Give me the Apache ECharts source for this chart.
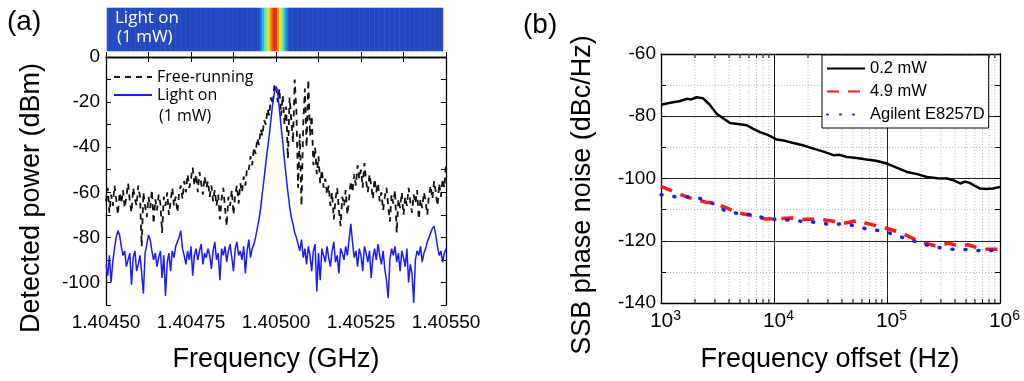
<!DOCTYPE html>
<html>
<head>
<meta charset="utf-8">
<script src="https://cdn.jsdelivr.net/npm/echarts/dist/echarts.min.js"></script>
<style>
html,body{margin:0;padding:0;background:#fff;}
#chart{width:1024px;height:381px;}
</style>
</head>
<body>
<div id="chart"></div>
<script>
// ---------- Panel (a) data ----------
const freqStart = 1.4045;   // GHz
const freqEnd = 1.4055;     // GHz
// Light on (1 mW) trace, 201 samples evenly spaced over freqStart..freqEnd (dBm)
const lightOn = [
 -92,-97,-88,-100,-91,-85,-80,-77,-79,-84,
 -88,-86,-93,-90,-87,-101,-89,-86,-95,-92,
 -88,-96,-105,-87,-83,-79,-81,-86,-90,-87,
 -93,-89,-86,-98,-88,-106,-91,-87,-95,-86,
 -89,-84,-82,-80,-77,-85,-88,-92,-86,-90,
 -84,-97,-88,-85,-90,-86,-83,-92,-87,-89,
 -85,-88,-94,-86,-82,-90,-87,-99,-85,-88,
 -84,-91,-86,-83,-89,-95,-85,-82,-88,-86,
 -90,-84,-96,-86,-81,-89,-85,-83,-80,-76,
 -72,-67,-60,-54,-47,-41,-35,-28,-21,-16,
 -13,
 -16,-23,-31,-38,-46,-53,-60,-66,-71,
 -74,-78,-80,-83,-86,-81,-89,-85,-92,-84,
 -88,-95,-86,-83,-104,-87,-99,-85,-88,-91,
 -84,-89,-93,-86,-82,-91,-88,-96,-85,-87,
 -90,-84,-88,-81,-74,-82,-89,-86,-93,-85,
 -88,-95,-84,-87,-91,-86,-98,-89,-85,-90,
 -83,-88,-92,-86,-94,-99,-107,-90,-85,-88,
 -84,-91,-87,-95,-86,-89,-93,-85,-100,-92,
 -96,-109,-90,-86,-88,-84,-91,-87,-85,-82,
 -80,-78,-76,-75,-79,-84,-88,-86,-91,-87,
 -85
];
// Free-running trace, 201 samples evenly spaced over freqStart..freqEnd (dBm)
const freeRunning = [
 -64,-58,-69,-61,-66,-57,-63,-70,-60,-65,
 -59,-67,-62,-56,-64,-69,-58,-63,-66,-57,
 -62,-84,-60,-66,-71,-62,-67,-59,-74,-63,
 -68,-61,-65,-78,-62,-66,-60,-70,-64,-58,
 -66,-62,-69,-60,-57,-63,-55,-60,-52,-58,
 -54,-49,-57,-52,-60,-51,-56,-61,-53,-58,
 -55,-62,-57,-64,-59,-66,-61,-72,-63,-58,
 -67,-75,-62,-66,-59,-70,-61,-57,-65,-56,
 -60,-53,-57,-49,-50,-44,-48,-40,-43,-36,
 -39,-32,-35,-28,-30,-23,-26,-18,-21,-13,
 -12,-20,-14,-26,-17,-30,-22,-45,-18,-28,
 -38,-10,-24,-58,-34,-66,-30,-14,-40,-10,
 -35,-26,-48,-40,-52,-44,-56,-50,-58,-54,
 -61,-57,-66,-60,-72,-63,-58,-68,-75,-62,
 -66,-59,-70,-63,-55,-60,-52,-57,-48,-54,
 -50,-58,-47,-55,-60,-52,-57,-63,-54,-60,
 -56,-64,-60,-68,-62,-58,-66,-73,-61,-65,
 -59,-78,-63,-67,-60,-70,-62,-66,-58,-64,
 -69,-61,-65,-59,-72,-63,-67,-60,-64,-70,
 -61,-57,-63,-55,-60,-66,-56,-62,-54,-58,
 -47
];

// ---------- Panel (b) data ----------
const offsets02 = [1000,1150,1280,1450,1690,1850,2070,2350,2700,3110,3600,4080,4800,5730,6500,7520,8800,10600,12500,14800,18000,22300,27000,33500,38000,44000,52000,66000,80000,100000,120000,150000,185000,226000,280000,340000,390000,445000,490000,540000,600000,660000,760000,870000,1000000];
const noise02 = [-76.3,-75.8,-75.5,-75.2,-74.4,-74.6,-73.9,-74.2,-76.3,-79.2,-80.8,-82.2,-82.5,-82.9,-84.0,-85.1,-86.0,-87.5,-87.9,-88.6,-89.3,-90.4,-91.3,-92.5,-92.4,-93.1,-93.3,-93.9,-94.3,-95.2,-96.4,-97.9,-98.6,-99.5,-99.9,-100.0,-100.6,-101.6,-101.0,-101.4,-102.4,-103.2,-103.4,-103.2,-102.7];
const offsets49 = [1000,1270,1780,2500,2860,3870,4600,6450,8400,10300,14500,17800,23000,27000,35000,43000,56000,64000,97000,135000,166000,203000,268000,350000,430000,525000,600000,740000,970000,1000000];
const noise49 = [-102.5,-104.1,-106.2,-107.6,-107.8,-109.5,-110.9,-111.9,-113.0,-112.9,-112.7,-113.2,-113.0,-113.2,-113.8,-114.3,-113.5,-114.3,-115.9,-117.5,-119.1,-120.5,-121.6,-120.8,-121.6,-121.3,-122.0,-122.7,-122.7,-122.6];
const offsetsAg = [1000,1360,1780,2250,2960,3740,4900,6450,8150,10700,14000,18400,24000,31700,41600,54500,71000,93000,122000,155000,203000,268000,350000,460000,600000,790000,970000];
const noiseAg = [-105.2,-105.9,-105.9,-106.5,-108.2,-110.5,-111.3,-111.6,-112.7,-113.2,-113.4,-113.8,-114.1,-114.8,-114.5,-115.4,-116.5,-116.8,-118.4,-119.5,-121.0,-122.0,-122.7,-122.7,-123.1,-123.2,-122.9];
const minorOffsets = [2000,3000,4000,5000,6000,7000,8000,9000,20000,30000,40000,50000,60000,70000,80000,90000,200000,300000,400000,500000,600000,700000,800000,900000];

// ---------- build ----------
const fontA = 'Liberation Sans, Arial, sans-serif';
const fontLeg = 'Open Sans, sans-serif';
const stepLight = (freqEnd - freqStart) / (lightOn.length - 1);
const stepFree = (freqEnd - freqStart) / (freeRunning.length - 1);
const lightData = lightOn.map((v, i) => [freqStart + i * stepLight, v]);
const freeData = freeRunning.map((v, i) => [freqStart + i * stepFree, v]);
const stripData = lightOn.map((v, i) => [i, 0, v]);
const zip = (xs, ys) => xs.map((x, i) => [x, ys[i]]);

const chart = echarts.init(document.getElementById('chart'), null, {renderer: 'canvas'});

const boxAxis = {
  axisLine: {show: true, lineStyle: {color: '#000', width: 1.3}},
  axisTick: {show: true, inside: true, length: 5, lineStyle: {color: '#000', width: 1}},
  splitLine: {show: false}
};

const option = {
  animation: false,
  backgroundColor: '#fff',
  grid: [
    {left: 107, top: 8, width: 336, height: 43},
    {left: 106, top: 57, width: 340, height: 248},
    {left: 661, top: 54, width: 339, height: 249}
  ],
  xAxis: [
    {gridIndex: 0, type: 'category', data: lightOn.map((v, i) => i), show: false},
    Object.assign({}, boxAxis, {
      gridIndex: 1, type: 'value', min: freqStart, max: freqEnd, interval: 0.000125,
      axisLabel: {
        margin: 8, fontFamily: fontA, fontSize: 19, color: '#000',
        formatter: function (v) {
          const k = Math.round((v - freqStart) / 0.000125);
          return k % 2 === 0 ? v.toFixed(5) : '';
        }
      }
    }),
    Object.assign({}, boxAxis, {
      gridIndex: 1, type: 'value', position: 'top', min: freqStart, max: freqEnd, interval: 0.000125,
      axisLabel: {show: false}
    }),
    Object.assign({}, boxAxis, {
      gridIndex: 2, type: 'log', logBase: 10, min: 1000, max: 1000000,
      axisLabel: {
        margin: 6, color: '#000',
        formatter: function (v) {
          const e = Math.round(Math.log10(v));
          return '{p|}{b|10}{e|' + e + '}';
        },
        rich: {
          p: {width: 9},
          b: {fontFamily: fontA, fontSize: 21, lineHeight: 24, color: '#000'},
          e: {fontFamily: fontA, fontSize: 14, lineHeight: 14, verticalAlign: 'top', color: '#000', padding: [0, 0, 10, 0]}
        }
      },
      splitLine: {show: true, lineStyle: {color: '#222', width: 1}}
    }),
    Object.assign({}, boxAxis, {
      gridIndex: 2, type: 'log', logBase: 10, min: 1000, max: 1000000, position: 'top',
      axisLabel: {show: false}
    })
  ],
  yAxis: [
    {gridIndex: 0, type: 'category', data: ['0'], show: false},
    Object.assign({}, boxAxis, {
      gridIndex: 1, type: 'value', min: -110, max: 0, interval: 10,
      axisLabel: {
        margin: 6, fontFamily: fontA, fontSize: 19, color: '#000',
        formatter: function (v) { return (Math.round(v) % 20 === 0) ? String(Math.round(v)) : ''; }
      }
    }),
    Object.assign({}, boxAxis, {
      gridIndex: 1, type: 'value', min: -110, max: 0, interval: 10, position: 'right',
      axisLabel: {show: false}
    }),
    Object.assign({}, boxAxis, {
      gridIndex: 2, type: 'value', min: -140, max: -60, interval: 20,
      axisLabel: {margin: 5, fontFamily: fontA, fontSize: 19, color: '#000'},
      minorTick: {show: true, splitNumber: 2, length: 5, lineStyle: {color: '#000'}},
      splitLine: {show: true, lineStyle: {color: '#222', width: 1}},
      minorSplitLine: {show: true, lineStyle: {color: '#bbb', type: [1, 2], width: 1}}
    }),
    Object.assign({}, boxAxis, {
      gridIndex: 2, type: 'value', min: -140, max: -60, interval: 20, position: 'right',
      axisLabel: {show: false},
      minorTick: {show: true, splitNumber: 2, length: 5, lineStyle: {color: '#000'}}
    })
  ],
  visualMap: {
    show: false, type: 'continuous', seriesIndex: 0, dimension: 2, min: -72, max: -15,
    inRange: {color: ['#2448c0', '#2a62d6', '#22a8e8', '#38e6c8', '#a6f052', '#f6e622', '#f68c1e', '#e82c14']}
  },
  legend: [
    {
      data: ['Free-running', 'Light on'], orient: 'vertical', left: 113, top: 69,
      itemWidth: 38, itemHeight: 10, itemGap: 2, padding: 0,
      itemStyle: {opacity: 0},
      textStyle: {fontFamily: fontLeg, fontSize: 16, color: '#000'},
      selectedMode: false
    },
    {
      data: ['0.2 mW', '4.9 mW', 'Agilent E8257D'], orient: 'vertical', left: 822, top: 55,
      itemWidth: 38, itemHeight: 12, itemGap: 6, padding: [5, 4, 5, 4],
      itemStyle: {opacity: 0},
      backgroundColor: '#fff', borderColor: '#000', borderWidth: 1,
      textStyle: {fontFamily: fontA, fontSize: 16.5, color: '#000'},
      selectedMode: false
    }
  ],
  graphic: [
    {type: 'text', left: 7, top: 8, style: {text: '(a)', fontFamily: fontA, fontSize: 28, fill: '#000'}},
    {type: 'text', left: 523, top: 11, style: {text: '(b)', fontFamily: fontA, fontSize: 28, fill: '#000'}},
    {type: 'text', left: 115, top: 10, z: 100, style: {text: 'Light on', fontFamily: fontLeg, fontSize: 17, fill: '#fff'}},
    {type: 'text', left: 117, top: 29, z: 100, style: {text: '(1 mW)', fontFamily: fontLeg, fontSize: 17, fill: '#fff'}},
    {type: 'text', left: 159, top: 108, z: 100, style: {text: '(1 mW)', fontFamily: fontLeg, fontSize: 16, fill: '#000'}},
    {type: 'text', x: 32, y: 198, rotation: Math.PI / 2, style: {text: 'Detected power (dBm)', fontFamily: fontA, fontSize: 27, fill: '#000', align: 'center', verticalAlign: 'middle'}},
    {type: 'text', x: 583, y: 195, rotation: Math.PI / 2, style: {text: 'SSB phase noise (dBc/Hz)', fontFamily: fontA, fontSize: 27, fill: '#000', align: 'center', verticalAlign: 'middle'}},
    {type: 'text', x: 276, y: 360, style: {text: 'Frequency (GHz)', fontFamily: fontA, fontSize: 27, fill: '#000', align: 'center', verticalAlign: 'middle'}},
    {type: 'text', x: 830, y: 360, style: {text: 'Frequency offset (Hz)', fontFamily: fontA, fontSize: 27, fill: '#000', align: 'center', verticalAlign: 'middle'}}
  ],
  series: [
    {
      type: 'heatmap', xAxisIndex: 0, yAxisIndex: 0, data: stripData,
      itemStyle: {borderWidth: 0}, emphasis: {disabled: true}, progressive: 0
    },
    {
      name: 'Free-running', type: 'line', xAxisIndex: 1, yAxisIndex: 1, data: freeData,
      symbol: 'none', z: 3,
      lineStyle: {color: '#111', width: 1.8, type: [6, 5]}, itemStyle: {color: '#111'}
    },
    {
      name: 'Light on', type: 'line', xAxisIndex: 1, yAxisIndex: 1, data: lightData,
      symbol: 'none', z: 4,
      lineStyle: {color: '#1a1aff', width: 1.5}, itemStyle: {color: '#1a1aff'}
    },
    {
      type: 'custom', xAxisIndex: 3, yAxisIndex: 3, data: minorOffsets.map(v => [v]), z: 1,
      encode: {x: 0}, silent: true,
      renderItem: function (params, api) {
        const pt = api.coord([api.value(0), -60]);
        const pb = api.coord([api.value(0), -140]);
        return {
          type: 'group',
          children: [
            {type: 'line', shape: {x1: pt[0], y1: pt[1], x2: pb[0], y2: pb[1]}, style: {stroke: '#bbb', lineWidth: 1, lineDash: [1, 2]}},
            {type: 'line', shape: {x1: pt[0], y1: pt[1], x2: pt[0], y2: pt[1] + 4}, style: {stroke: '#000', lineWidth: 1}},
            {type: 'line', shape: {x1: pb[0], y1: pb[1], x2: pb[0], y2: pb[1] - 4}, style: {stroke: '#000', lineWidth: 1}}
          ]
        };
      }
    },
    {
      name: '0.2 mW', type: 'line', xAxisIndex: 3, yAxisIndex: 3, data: zip(offsets02, noise02),
      symbol: 'none', z: 3,
      lineStyle: {color: '#000', width: 2.5}, itemStyle: {color: '#000'}
    },
    {
      name: '4.9 mW', type: 'line', xAxisIndex: 3, yAxisIndex: 3, data: zip(offsets49, noise49),
      symbol: 'none', z: 4,
      lineStyle: {color: '#ff1a1a', width: 3.5, type: [12, 9]}, itemStyle: {color: '#ff1a1a'}
    },
    {
      name: 'Agilent E8257D', type: 'line', xAxisIndex: 3, yAxisIndex: 3, data: zip(offsetsAg, noiseAg),
      symbol: 'none', z: 5,
      lineStyle: {color: '#1a1aff', width: 3.5, type: [1, 12], cap: 'round'}, itemStyle: {color: '#1a1aff'}
    }
  ]
};
chart.setOption(option);
</script>
</body>
</html>
